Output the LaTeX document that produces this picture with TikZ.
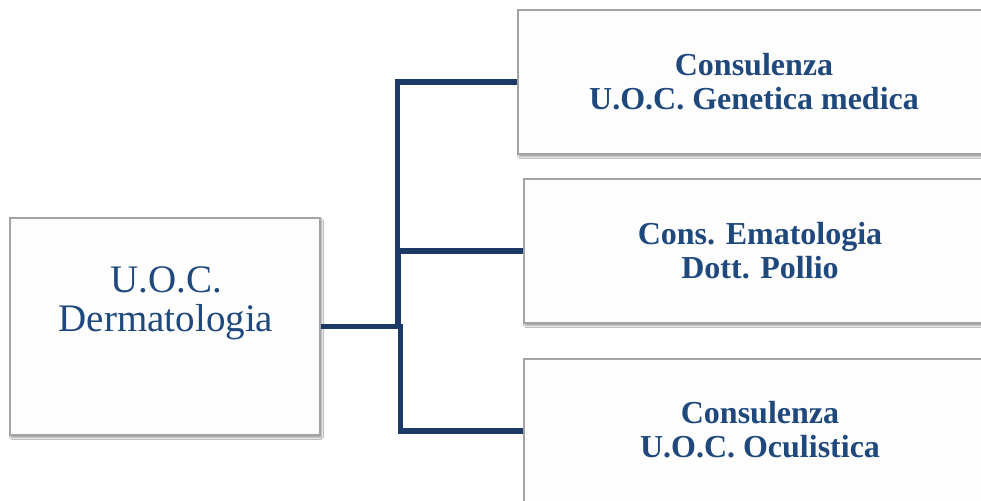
\documentclass[tikz,border=0pt]{standalone}
\usepackage{fontspec}
\setmainfont{Liberation Serif}
\usetikzlibrary{shadows.blur}
\definecolor{txtblue}{HTML}{1F497D}
\definecolor{lineblue}{HTML}{1D3965}
\definecolor{boxedge}{HTML}{A3A3A3}
\definecolor{boxfill}{HTML}{FDFDFD}
\tikzset{
  orgbox/.style={draw=boxedge, line width=1.2pt, fill=boxfill, rectangle, inner sep=0pt,
    blur shadow={shadow xshift=1.5pt, shadow yshift=-2.5pt, shadow blur steps=6, shadow opacity=40}},
  parenttext/.style={text=txtblue, align=center, font=\fontsize{39}{39}\selectfont, inner sep=0pt},
  childtext/.style={text=txtblue, align=center, font=\bfseries\fontsize{32}{34}\selectfont, inner sep=0pt},
  conn/.style={draw=lineblue, line width=5.3pt}
}
\begin{document}
\begin{tikzpicture}[x=1pt, y=-1pt]
  \useasboundingbox (0,0) rectangle (981,500);
  \clip (0,0) rectangle (981,500);
  \fill[white] (0,0) rectangle (981,500);

  % parent unit
  \node[orgbox, minimum width=310pt, minimum height=217pt] (derm) at (165,326.5) {};
  \node[parenttext] (dermtext) at (166,303) {U.O.C.\\Dermatologia};

  % consulting units
  \node[orgbox, minimum width=472pt, minimum height=144pt] (gen) at (754,82) {};
  \node[childtext] (gentext) at (754,82) {Consulenza\\U.O.C. Genetica medica};

  \node[orgbox, minimum width=472pt, minimum height=144pt] (ema) at (760,251) {};
  \node[childtext] (ematext) at (760,251) {Cons. Ematologia\\Dott. Pollio};

  \node[orgbox, minimum width=472pt, minimum height=144pt] (ocu) at (760,431) {};
  \node[childtext] (ocutext) at (760,430) {Consulenza\\U.O.C. Oculistica};

  % elbow connectors
  \draw[conn] (derm.east) -- ++(77,0) |- (gen.west);
  \draw[conn] (derm.east) -- ++(78,0) |- (ema.west);
  \draw[conn] (derm.east) -- ++(80,0) |- (ocu.west);
\end{tikzpicture}
\end{document}
